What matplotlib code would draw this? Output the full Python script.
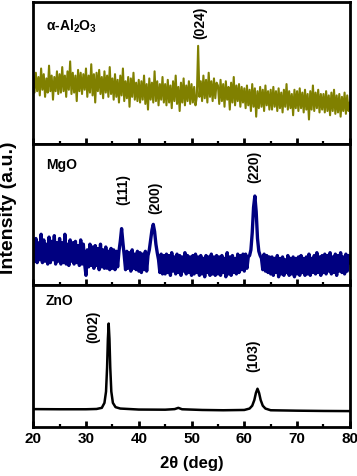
import numpy as np
import matplotlib
matplotlib.use('Agg')
import matplotlib.pyplot as plt

plt.rcParams['font.family'] = ['Liberation Sans', 'DejaVu Sans']
plt.rcParams['font.weight'] = 'bold'
plt.rcParams['mathtext.fontset'] = 'custom'
plt.rcParams['mathtext.bf'] = 'Liberation Sans:bold'
plt.rcParams['mathtext.rm'] = 'Liberation Sans:bold'

# 2theta grid for the two noisy patterns (0.25 deg step)
two_theta = np.arange(20, 80.001, 0.25)

al2o3 = [
    0.48, 0.36, 0.50, 0.37, 0.47, 0.34, 0.53, 0.38, 0.49, 0.33, 0.46, 0.36, 0.55, 0.37, 0.48, 0.31, 0.47, 0.37, 0.51, 0.35,
    0.49, 0.36, 0.54, 0.37, 0.48, 0.33, 0.51, 0.38, 0.58, 0.35, 0.50, 0.36, 0.48, 0.30, 0.52, 0.37, 0.50, 0.35, 0.49, 0.38,
    0.53, 0.33, 0.48, 0.36, 0.56, 0.34, 0.49, 0.29, 0.50, 0.37, 0.52, 0.35, 0.47, 0.32, 0.51, 0.36, 0.48, 0.33, 0.54, 0.35,
    0.46, 0.31, 0.49, 0.33, 0.45, 0.29, 0.48, 0.34, 0.53, 0.30, 0.44, 0.32, 0.47, 0.26, 0.46, 0.33, 0.50, 0.31, 0.43, 0.30,
    0.45, 0.29, 0.44, 0.31, 0.48, 0.28, 0.42, 0.24, 0.46, 0.31, 0.43, 0.29, 0.51, 0.30, 0.44, 0.27, 0.42, 0.31, 0.47, 0.29,
    0.42, 0.27, 0.45, 0.29, 0.41, 0.25, 0.44, 0.30, 0.48, 0.28, 0.40, 0.23, 0.43, 0.29, 0.46, 0.27, 0.41, 0.30, 0.44, 0.28,
    0.42, 0.29, 0.40, 0.27, 0.33, 0.69, 0.33, 0.44, 0.30, 0.48, 0.32, 0.45, 0.29, 0.50, 0.33, 0.44, 0.30, 0.46, 0.32, 0.43,
    0.41, 0.28, 0.45, 0.30, 0.42, 0.26, 0.44, 0.31, 0.40, 0.24, 0.43, 0.29, 0.47, 0.27, 0.41, 0.30, 0.42, 0.26, 0.40, 0.29,
    0.39, 0.25, 0.41, 0.27, 0.38, 0.23, 0.42, 0.26, 0.39, 0.19, 0.37, 0.25, 0.40, 0.26, 0.38, 0.23, 0.41, 0.27, 0.37, 0.24,
    0.38, 0.24, 0.40, 0.26, 0.37, 0.23, 0.39, 0.25, 0.36, 0.22, 0.38, 0.26, 0.42, 0.24, 0.37, 0.25, 0.35, 0.20, 0.38, 0.25,
    0.37, 0.23, 0.39, 0.25, 0.36, 0.22, 0.38, 0.24, 0.35, 0.17, 0.37, 0.24, 0.41, 0.23, 0.36, 0.25, 0.38, 0.22, 0.35, 0.24,
    0.35, 0.22, 0.37, 0.23, 0.34, 0.20, 0.36, 0.23, 0.38, 0.21, 0.34, 0.22, 0.35, 0.19, 0.33, 0.23, 0.36, 0.21, 0.34, 0.23,
    0.29,
]

mgo = [
    0.31, 0.17, 0.33, 0.16, 0.30, 0.18, 0.36, 0.16, 0.32, 0.17, 0.29, 0.15, 0.34, 0.16, 0.31, 0.18, 0.35, 0.15, 0.30, 0.17,
    0.33, 0.15, 0.30, 0.16, 0.36, 0.15, 0.29, 0.14, 0.32, 0.17, 0.30, 0.15, 0.31, 0.16, 0.28, 0.14, 0.32, 0.15, 0.29, 0.15,
    0.07, 0.25, 0.13, 0.29, 0.14, 0.27, 0.12, 0.28, 0.14, 0.26, 0.11, 0.29, 0.13, 0.25, 0.12, 0.27, 0.12, 0.24, 0.11, 0.26,
    0.12, 0.25, 0.11, 0.24, 0.13, 0.24, 0.31, 0.40, 0.30, 0.21, 0.11, 0.24, 0.12, 0.23, 0.10, 0.25, 0.12, 0.22, 0.11, 0.24,
    0.10, 0.23, 0.09, 0.22, 0.11, 0.24, 0.10, 0.21, 0.25, 0.32, 0.39, 0.43, 0.38, 0.29, 0.23, 0.18, 0.09, 0.22, 0.08, 0.21,
    0.08, 0.22, 0.09, 0.21, 0.07, 0.23, 0.10, 0.20, 0.08, 0.22, 0.09, 0.21, 0.07, 0.20, 0.10, 0.23, 0.08, 0.21, 0.09, 0.20,
    0.07, 0.21, 0.08, 0.22, 0.09, 0.20, 0.07, 0.21, 0.08, 0.19, 0.06, 0.21, 0.09, 0.20, 0.07, 0.22, 0.08, 0.20, 0.07, 0.21,
    0.08, 0.20, 0.07, 0.21, 0.09, 0.19, 0.06, 0.23, 0.08, 0.20, 0.07, 0.21, 0.09, 0.19, 0.08, 0.22, 0.09, 0.21, 0.11, 0.22,
    0.10, 0.22, 0.12, 0.20, 0.21, 0.25, 0.37, 0.55, 0.63, 0.52, 0.33, 0.24, 0.21, 0.19, 0.11, 0.22, 0.10, 0.21, 0.09, 0.20,
    0.08, 0.20, 0.07, 0.19, 0.09, 0.21, 0.06, 0.19, 0.08, 0.20, 0.07, 0.18, 0.09, 0.21, 0.07, 0.19, 0.08, 0.20, 0.06, 0.19,
    0.08, 0.20, 0.07, 0.21, 0.09, 0.19, 0.07, 0.20, 0.08, 0.22, 0.07, 0.19, 0.09, 0.21, 0.08, 0.23, 0.09, 0.20, 0.07, 0.21,
    0.09, 0.22, 0.08, 0.21, 0.10, 0.23, 0.08, 0.20, 0.09, 0.22, 0.07, 0.21, 0.10, 0.23, 0.09, 0.20, 0.08, 0.22, 0.10, 0.21,
    0.16,
]

# ZnO is smooth, sampled more densely around the peaks
zno_x = [20, 25, 30, 32, 33.0, 33.5, 33.8, 34.0, 34.15, 34.3, 34.45, 34.6, 34.8, 35.1, 35.6, 36.5, 40, 45,
         46.8, 47.5, 48.2, 52, 56, 60, 61.0, 61.5, 61.9, 62.2, 62.5, 62.8, 63.1, 63.5, 64.0, 65, 70, 75, 80]
zno_y = [0.126, 0.125, 0.125, 0.127, 0.135, 0.17, 0.25, 0.42, 0.62, 0.73, 0.62, 0.42, 0.25, 0.17, 0.14, 0.13, 0.123, 0.122,
         0.126, 0.135, 0.125, 0.12, 0.118, 0.12, 0.13, 0.15, 0.19, 0.24, 0.27, 0.24, 0.19, 0.15, 0.13, 0.118, 0.115, 0.113, 0.112]

panels = [
    (al2o3, '#808000', 1.5, 'α-Al$_\\mathbf{2}$O$_\\mathbf{3}$', 0.83, [(51.6, 0.735, '(024)')]),
    (mgo, '#000080', 2.4, 'MgO', 0.85, [(37.1, 0.57, '(111)'), (43.1, 0.50, '(200)'), (61.95, 0.72, '(220)')]),
    (None, 'black', 1.8, 'ZnO', 0.89, [(31.3, 0.59, '(002)'), (61.7, 0.385, '(103)')]),
]

fig, axes = plt.subplots(3, 1, figsize=(3.57, 4.76), dpi=100, sharex=True)
fig.subplots_adjust(left=0.093, right=0.98, top=0.996, bottom=0.103, hspace=0)

for ax, (vals, col, lw, name, ny, peaks) in zip(axes, panels):
    if vals is None:
        ax.plot(zno_x, zno_y, color=col, lw=lw)
    else:
        ax.plot(two_theta, vals, color=col, lw=lw)
    ax.set_xlim(20, 80)
    ax.set_ylim(0, 1)
    ax.set_yticks([])
    ax.set_xticks(range(20, 81, 10))
    ax.set_xticks(range(25, 80, 10), minor=True)
    ax.tick_params(axis='x', which='major', direction='in', length=4, width=2, labelsize=11)
    ax.tick_params(axis='x', which='minor', direction='in', length=2.5, width=1.6)
    for s in ax.spines.values():
        s.set_linewidth(2)
    ax.text(22.4, ny, name, fontsize=10, fontweight='bold', va='center', ha='left')
    for px, py, lab in peaks:
        ax.text(px, py, lab, rotation=90, fontsize=10, fontweight='bold', ha='center', va='bottom')

axes[2].set_xlabel('2θ (deg)', fontsize=12, fontweight='bold', labelpad=7)
fig.text(0.025, 0.563, 'Intensity (a.u.)', rotation=90, fontsize=14, fontweight='bold', ha='center', va='center')

fig.savefig('out.png', dpi=100)
